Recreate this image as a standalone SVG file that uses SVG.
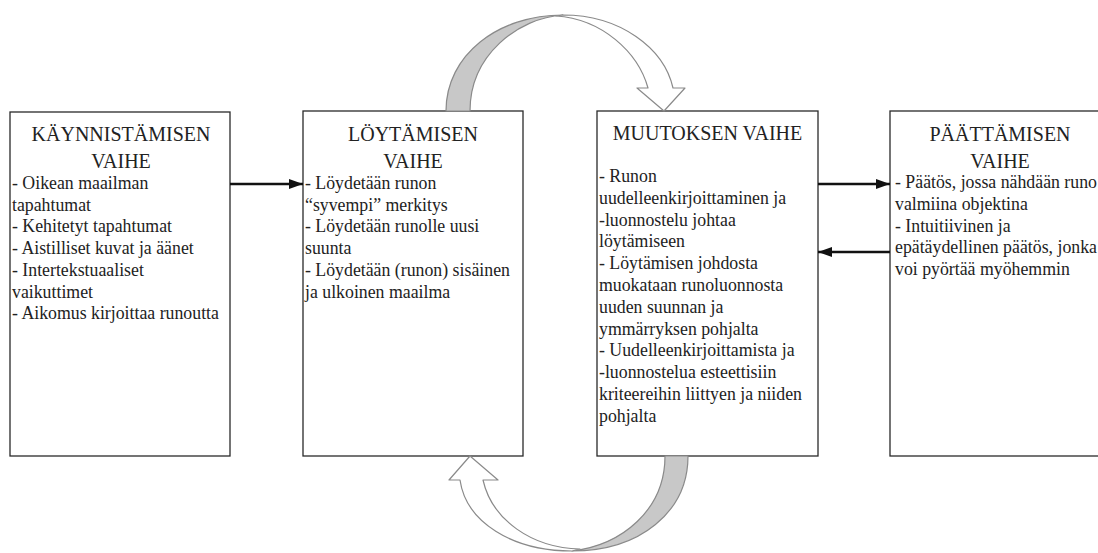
<svg xmlns="http://www.w3.org/2000/svg" width="1098" height="553" viewBox="0 0 1098 553">
<defs>
<style>
.box{fill:#fff;stroke:#2a2a2a;stroke-width:1.3}
.t{font-family:'Liberation Serif','Times New Roman','DejaVu Serif',serif;font-size:20px;fill:#222;text-anchor:middle}
.b{font-family:'Liberation Serif','Times New Roman','DejaVu Serif',serif;font-size:17.8px;fill:#222}
.con{stroke:#111;stroke-width:2.6;fill:none}
.back{fill:#c8c8c8;stroke:#8a8a8a;stroke-width:1.2;stroke-linejoin:round}
.front{fill:#fff;stroke:#8a8a8a;stroke-width:1.2;stroke-linejoin:round}
</style>
<marker id="ah" viewBox="0 0 14 10" refX="14" refY="5" markerWidth="14" markerHeight="10" markerUnits="userSpaceOnUse" orient="auto">
<path d="M0,0 L14,5 L0,10 Z" fill="#111"/>
</marker>
</defs>
<rect width="1098" height="553" fill="#fff"/>
<g id="box1">
<rect class="box" x="10" y="112" width="220" height="344"/>
<text class="t" x="121" y="141" font-family="Liberation Serif, serif">KÄYNNISTÄMISEN</text>
<text class="t" x="121" y="168" font-family="Liberation Serif, serif">VAIHE</text>
<text class="b" font-family="Liberation Serif, serif"><tspan x="12" y="189">- Oikean maailman</tspan><tspan x="12" y="210.7">tapahtumat</tspan><tspan x="12" y="232.4">- Kehitetyt tapahtumat</tspan><tspan x="12" y="254.1">- Aistilliset kuvat ja äänet</tspan><tspan x="12" y="275.8">- Intertekstuaaliset</tspan><tspan x="12" y="297.5">vaikuttimet</tspan><tspan x="12" y="319.2">- Aikomus kirjoittaa runoutta</tspan></text>
</g>
<g id="box2">
<rect class="box" x="303" y="111" width="220" height="345"/>
<text class="t" x="413" y="141">LÖYTÄMISEN</text>
<text class="t" x="413" y="168">VAIHE</text>
<text class="b"><tspan x="305" y="189">- Löydetään runon</tspan><tspan x="305" y="210.7">“syvempi” merkitys</tspan><tspan x="305" y="232.4">- Löydetään runolle uusi</tspan><tspan x="305" y="254.1">suunta</tspan><tspan x="305" y="275.8">- Löydetään (runon) sisäinen</tspan><tspan x="305" y="297.5">ja ulkoinen maailma</tspan></text>
</g>
<g id="box3">
<rect class="box" x="597" y="111" width="221" height="345"/>
<text class="t" x="707.5" y="140">MUUTOKSEN VAIHE</text>
<text class="b"><tspan x="599" y="182">- Runon</tspan><tspan x="599" y="203.8">uudelleenkirjoittaminen ja</tspan><tspan x="599" y="225.6">-luonnostelu johtaa</tspan><tspan x="599" y="247.4">löytämiseen</tspan><tspan x="599" y="269.2">- Löytämisen johdosta</tspan><tspan x="599" y="291">muokataan runoluonnosta</tspan><tspan x="599" y="312.8">uuden suunnan ja</tspan><tspan x="599" y="334.6">ymmärryksen pohjalta</tspan><tspan x="599" y="356.4">- Uudelleenkirjoittamista ja</tspan><tspan x="599" y="378.2">-luonnostelua esteettisiin</tspan><tspan x="599" y="400">kriteereihin liittyen ja niiden</tspan><tspan x="599" y="421.8">pohjalta</tspan></text>
</g>
<g id="box4">
<rect class="box" x="890" y="111" width="222" height="345"/>
<text class="t" x="1000" y="141">PÄÄTTÄMISEN</text>
<text class="t" x="1000" y="168">VAIHE</text>
<text class="b"><tspan x="895" y="188">- Päätös, jossa nähdään runo</tspan><tspan x="895" y="209.8">valmiina objektina</tspan><tspan x="895" y="231.6">- Intuitiivinen ja</tspan><tspan x="895" y="253.4">epätäydellinen päätös, jonka</tspan><tspan x="895" y="275.2">voi pyörtää myöhemmin</tspan></text>
</g>
<g id="connectors">
<line class="con" x1="230" y1="184" x2="303" y2="184" marker-end="url(#ah)"/>
<line class="con" x1="818" y1="184" x2="890" y2="184" marker-end="url(#ah)"/>
<line class="con" x1="890" y1="252" x2="818" y2="252" marker-end="url(#ah)"/>
<g id="loop-top">
<path class="back" d="M446,111 C446,55 498,15 563,15 C518,18 470,55 470,111 Z"/>
<path class="front" d="M563,15 C620,15 664,48 673,88 L685,88 L664,111 L637,88 L648,88 C638,52 602,19 556,16 Z"/>
</g>
<g id="loop-bottom">
<path class="back" d="M688,456 C688,512 640,551 572,551 C622,545 665,510 665,456 Z"/>
<path class="front" d="M572,551 C512,551 466,522 460,480 L449,480 L470,456 L498,480 L483,480 C492,520 532,548 580,549 Z"/>
</g>
</g>
</svg>
